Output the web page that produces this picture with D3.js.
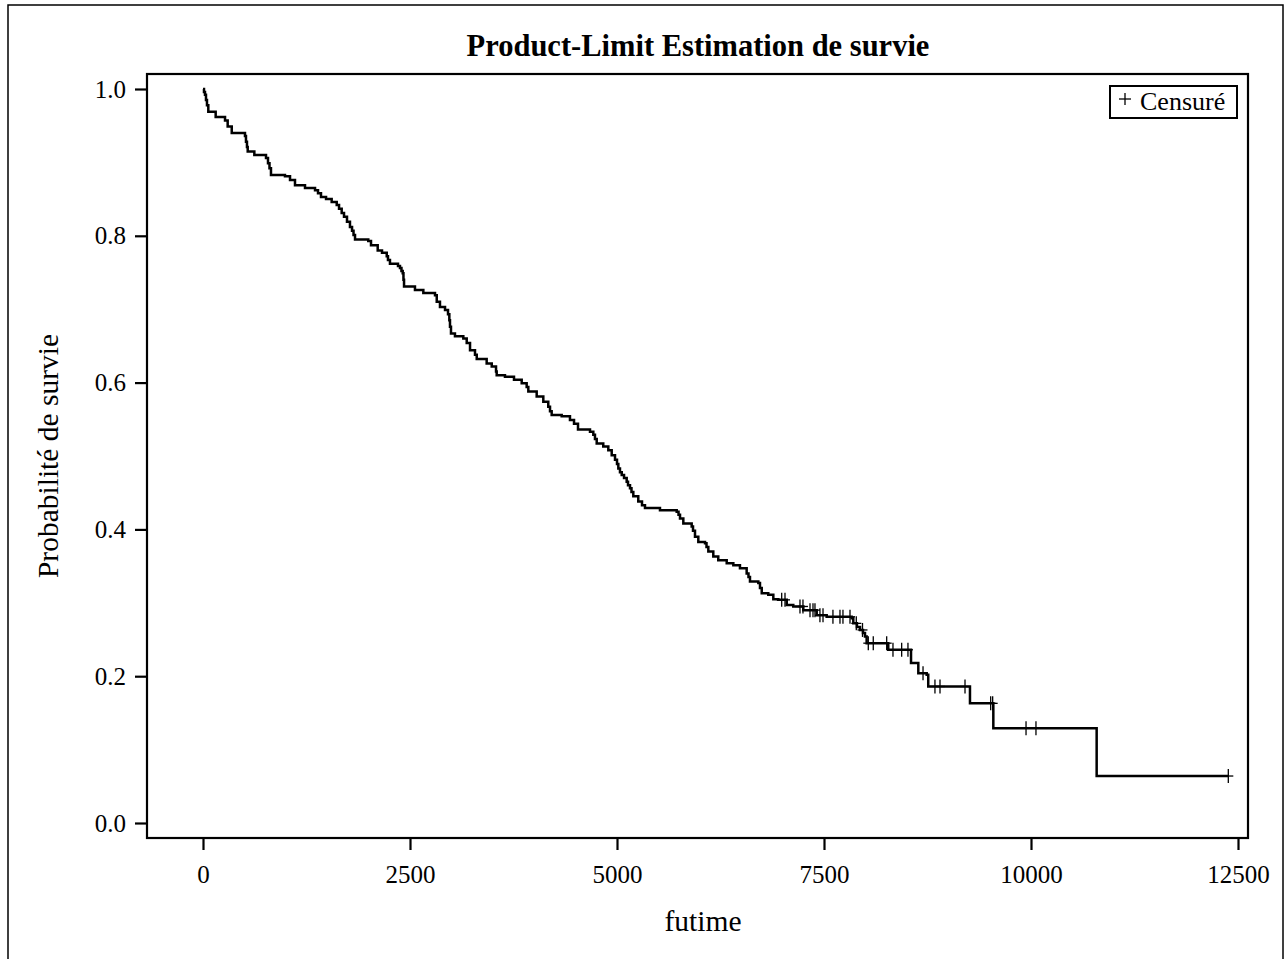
<!DOCTYPE html>
<html>
<head>
<meta charset="utf-8">
<script src="https://cdn.jsdelivr.net/npm/d3@7"></script>
<style>
  body { margin: 0; background: #fff; }
  svg { display: block; font-family: "Liberation Serif", "Times New Roman", serif; }
</style>
</head>
<body>
<svg id="chart" width="1285" height="959"></svg>
<script>
// Kaplan-Meier steps: event time -> survival after the drop
const eventTimes = [0, 12, 24, 36, 48, 64, 153, 266, 298, 347, 507, 519, 531, 540, 620, 761, 785, 803, 821, 990,
  1051, 1111, 1232, 1353, 1389, 1425, 1486, 1554, 1615, 1643, 1675, 1703, 1739, 1775, 1800, 1818, 1836, 1996,
  2029, 2110, 2162, 2219, 2234, 2258, 2355, 2379, 2397, 2412, 2421, 2428, 2560, 2661, 2802, 2823, 2862, 2923,
  2959, 2975, 2983, 2995, 3043, 3144, 3185, 3225, 3285, 3306, 3426, 3487, 3539, 3547, 3647, 3756, 3849, 3909,
  3929, 4030, 4110, 4170, 4191, 4211, 4332, 4432, 4481, 4529, 4674, 4714, 4734, 4755, 4834, 4895, 4936, 4976,
  5000, 5016, 5036, 5057, 5085, 5117, 5133, 5157, 5175, 5197, 5257, 5302, 5338, 5519, 5721, 5743, 5761, 5801,
  5902, 5918, 5942, 5982, 6063, 6081, 6103, 6163, 6223, 6325, 6405, 6485, 6566, 6588, 6606, 6707, 6727, 6748,
  6827, 6888, 6948, 7050, 7129, 7250, 7412, 7532, 7834, 7854, 7898, 7935, 7971, 7995, 8015, 8276, 8551, 8639,
  8740, 8759, 9263, 9545, 10793];
const survival = [1.0, 0.996, 0.992, 0.985, 0.978, 0.969, 0.962, 0.957, 0.949, 0.940, 0.936, 0.928, 0.921, 0.915,
  0.910, 0.906, 0.899, 0.892, 0.883, 0.881, 0.876, 0.869, 0.865, 0.862, 0.858, 0.853, 0.850, 0.846, 0.842, 0.837,
  0.831, 0.826, 0.819, 0.812, 0.807, 0.801, 0.795, 0.793, 0.787, 0.780, 0.777, 0.772, 0.767, 0.762, 0.759, 0.756,
  0.752, 0.749, 0.740, 0.731, 0.726, 0.722, 0.719, 0.710, 0.703, 0.699, 0.693, 0.685, 0.676, 0.667, 0.663, 0.660,
  0.654, 0.644, 0.638, 0.632, 0.626, 0.622, 0.615, 0.610, 0.608, 0.604, 0.599, 0.594, 0.588, 0.581, 0.574, 0.567,
  0.561, 0.556, 0.554, 0.549, 0.544, 0.536, 0.533, 0.529, 0.523, 0.517, 0.513, 0.508, 0.501, 0.495, 0.489, 0.483,
  0.478, 0.474, 0.470, 0.465, 0.460, 0.456, 0.451, 0.445, 0.438, 0.433, 0.429, 0.426, 0.424, 0.420, 0.415, 0.408,
  0.404, 0.398, 0.390, 0.383, 0.381, 0.376, 0.370, 0.363, 0.358, 0.354, 0.351, 0.347, 0.340, 0.335, 0.329, 0.327,
  0.320, 0.313, 0.311, 0.305, 0.304, 0.297, 0.295, 0.290, 0.283, 0.281, 0.279, 0.272, 0.267, 0.263, 0.259, 0.254,
  0.245, 0.236, 0.218, 0.204, 0.202, 0.186, 0.163, 0.129, 0.064];
// censored observations (times only, height comes from the step function)
const censorTimes = [6989, 7029, 7210, 7246, 7331, 7367, 7391, 7451, 7488, 7608, 7693, 7729, 7814, 7890, 7965,
  8035, 8095, 8257, 8333, 8438, 8514, 8696, 8840, 8901, 9203, 9513, 9537, 9940, 10060, 12383];

const xTicks = [0, 2500, 5000, 7500, 10000, 12500];
const yTicks = [0.0, 0.2, 0.4, 0.6, 0.8, 1.0];

const svg = d3.select("#chart");
const frame = {left: 147, top: 74, right: 1248, bottom: 838};

const x = d3.scaleLinear().domain([0, 12500]).range([203, 1238]);
const y = d3.scaleLinear().domain([0, 1]).range([823, 89]);

// outer border
svg.append("rect")
  .attr("x", 8).attr("y", 5).attr("width", 1275).attr("height", 980)
  .attr("fill", "none").attr("stroke", "#000").attr("stroke-width", 1.5);

// survival at time t (right-continuous step)
function survAt(t) {
  let s = survival[0];
  for (let i = 0; i < eventTimes.length; i++) {
    if (eventTimes[i] <= t) s = survival[i];
  }
  return s;
}

const pts = eventTimes.map((t, i) => [t, survival[i]]);
const lastT = d3.max(censorTimes);
pts.push([lastT, survAt(lastT)]);

const line = d3.line()
  .x(d => x(d[0]))
  .y(d => y(d[1]))
  .curve(d3.curveStepAfter);

svg.append("path")
  .datum(pts)
  .attr("d", line)
  .attr("fill", "none")
  .attr("stroke", "#000")
  .attr("stroke-width", 2.5);

// censor marks
const plus = svg.append("g").selectAll("g")
  .data(censorTimes)
  .enter().append("g")
  .attr("transform", t => "translate(" + x(t) + "," + y(survAt(t)) + ")");
plus.append("line").attr("x1", -5).attr("x2", 5).attr("y1", 0).attr("y2", 0)
  .attr("stroke", "#000").attr("stroke-width", 1.3);
plus.append("line").attr("x1", 0).attr("x2", 0).attr("y1", -7).attr("y2", 7)
  .attr("stroke", "#000").attr("stroke-width", 1.3);

// frame
svg.append("rect")
  .attr("x", frame.left).attr("y", frame.top)
  .attr("width", frame.right - frame.left).attr("height", frame.bottom - frame.top)
  .attr("fill", "none").attr("stroke", "#000").attr("stroke-width", 2.2);

// axes
const xAxis = svg.append("g")
  .attr("transform", "translate(0," + frame.bottom + ")")
  .call(d3.axisBottom(x).tickValues(xTicks).tickSize(12).tickPadding(15).tickFormat(d3.format("d")));
const yAxis = svg.append("g")
  .attr("transform", "translate(" + frame.left + ",0)")
  .call(d3.axisLeft(y).tickValues(yTicks).tickSize(12).tickPadding(9).tickFormat(d3.format(".1f")));
[xAxis, yAxis].forEach(a => {
  a.select(".domain").remove();
  a.selectAll(".tick line").attr("stroke", "#000").attr("stroke-width", 2.2);
  a.selectAll(".tick text")
    .attr("fill", "#000")
    .style("font-family", "'Liberation Serif', 'Times New Roman', serif")
    .style("font-size", "25px");
});

// title and axis labels
svg.append("text")
  .attr("x", 698).attr("y", 56)
  .attr("text-anchor", "middle")
  .style("font-size", "30.5px").style("font-weight", "bold")
  .text("Product-Limit Estimation de survie");

svg.append("text")
  .attr("x", 703).attr("y", 931)
  .attr("text-anchor", "middle")
  .style("font-size", "29.5px")
  .text("futime");

svg.append("text")
  .attr("transform", "translate(58,456) rotate(-90)")
  .attr("text-anchor", "middle")
  .style("font-size", "29.5px")
  .text("Probabilité de survie");

// legend
const leg = svg.append("g");
leg.append("rect")
  .attr("x", 1110).attr("y", 86).attr("width", 127).attr("height", 32)
  .attr("fill", "#fff").attr("stroke", "#000").attr("stroke-width", 2);
leg.append("line").attr("x1", 1119).attr("x2", 1131).attr("y1", 99).attr("y2", 99)
  .attr("stroke", "#000").attr("stroke-width", 1.3);
leg.append("line").attr("x1", 1125).attr("x2", 1125).attr("y1", 93).attr("y2", 105)
  .attr("stroke", "#000").attr("stroke-width", 1.3);
leg.append("text")
  .attr("x", 1140).attr("y", 110)
  .style("font-size", "26px")
  .text("Censuré");
</script>
</body>
</html>
